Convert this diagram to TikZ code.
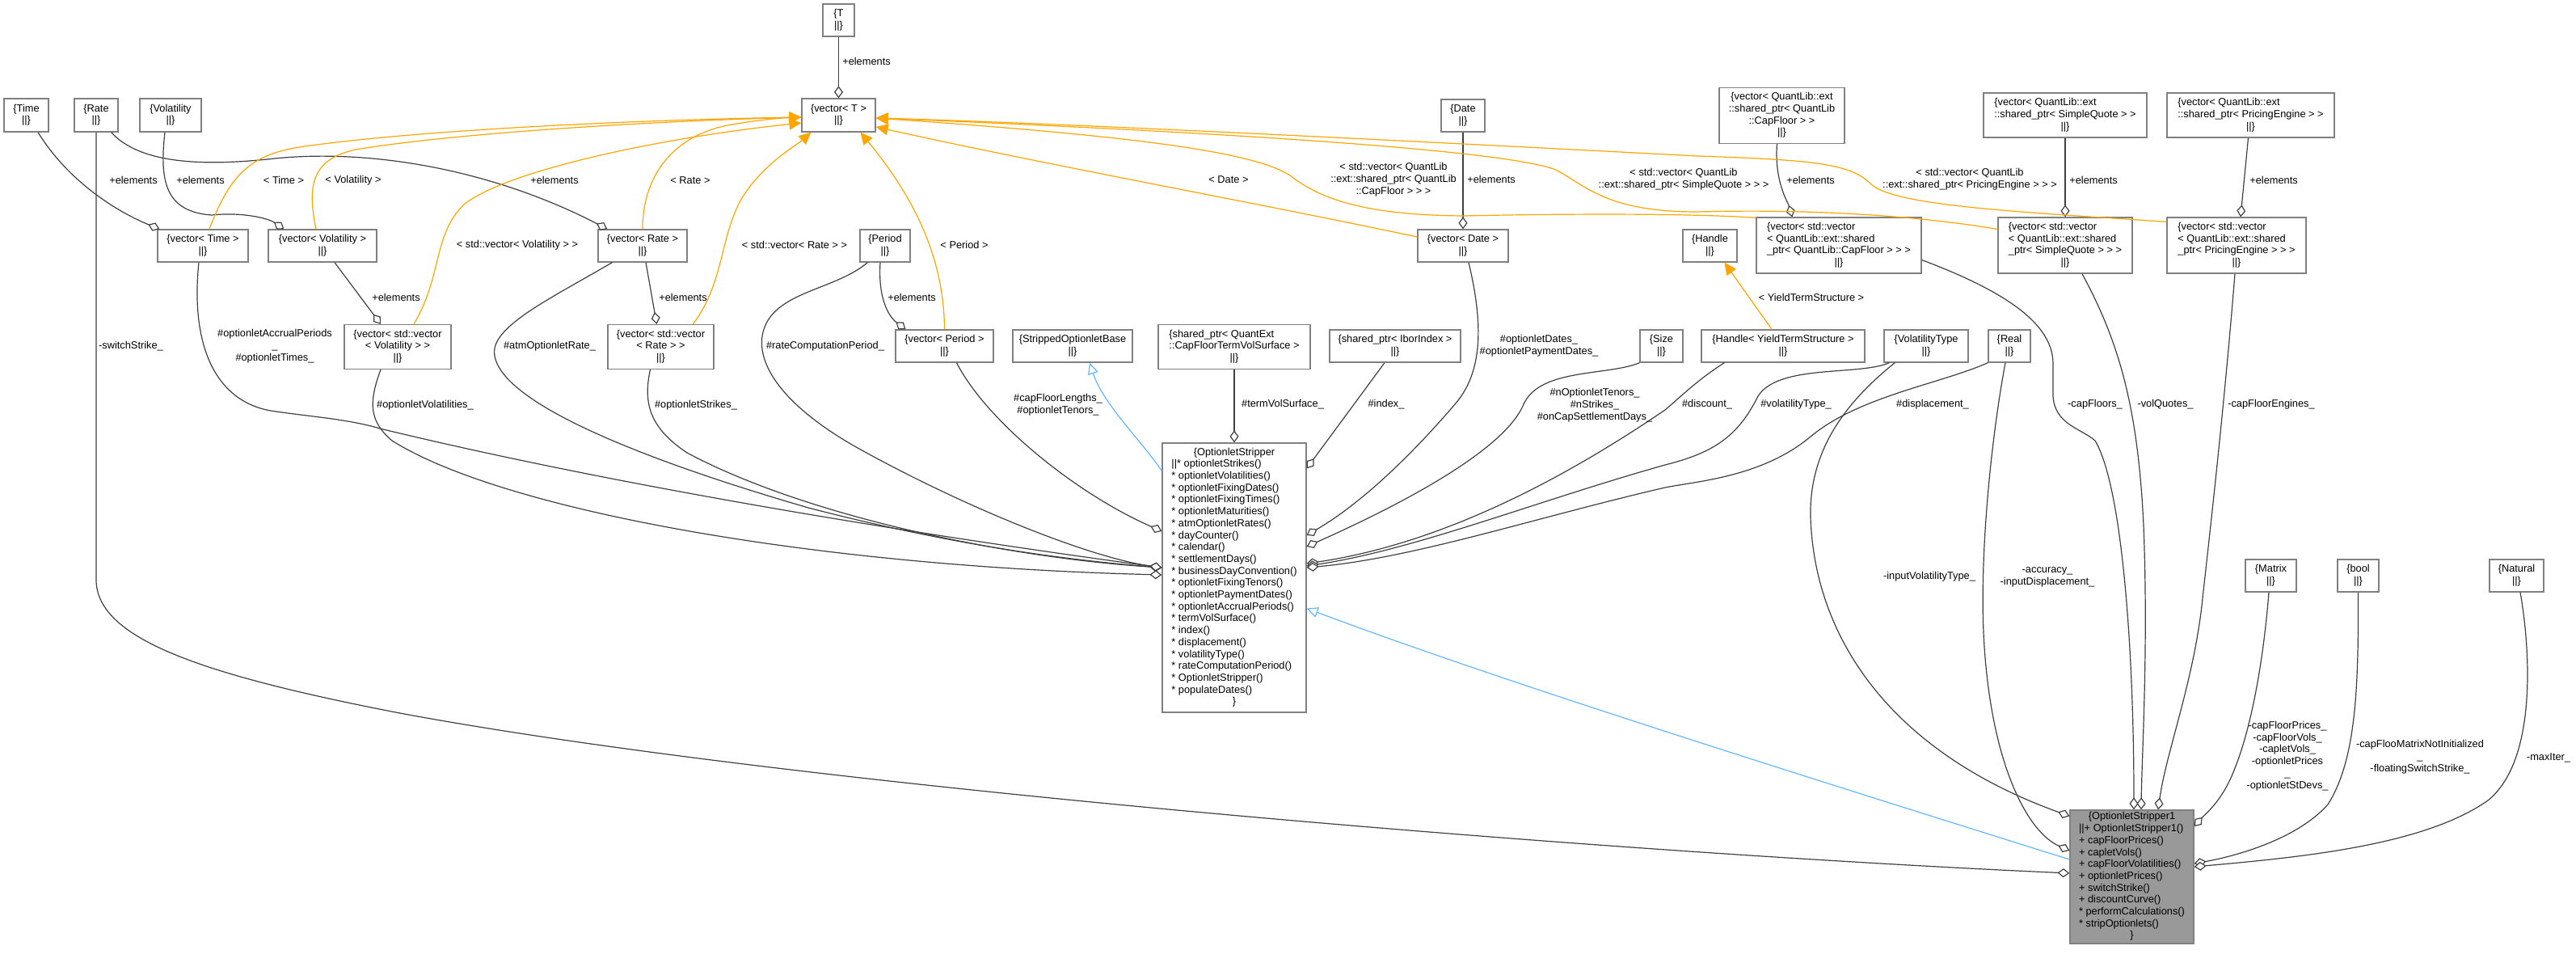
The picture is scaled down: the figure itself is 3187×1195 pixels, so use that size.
\documentclass[tikz,border=0pt]{standalone}
\usepackage{fontspec}
\setmainfont{Liberation Sans}
\usetikzlibrary{arrows.meta,calc}
\definecolor{nodeborder}{HTML}{808080}
\definecolor{edgegray}{HTML}{404040}
\definecolor{tplorange}{HTML}{FFA500}
\definecolor{inhblue}{HTML}{63B8FF}
\definecolor{osfill}{HTML}{999999}
\newcommand\dxfont{\fontsize{6.4pt}{7.35pt}\selectfont}
\newcommand\dxc[1]{\begin{tabular}{@{}c@{}}#1\end{tabular}}
\newcommand\dxl[1]{\begin{tabular}{@{}l@{}}#1\end{tabular}}
\newcommand\dxm[1]{\multicolumn{1}{@{}c@{}}{#1}}
\begin{document}
\begin{tikzpicture}[x=0.5pt,y=-0.5pt,
  box/.style={draw=nodeborder,fill=white,line width=0.65pt,inner sep=0pt,font=\dxfont},
  sz/.style 2 args={minimum width={#1*0.5pt},minimum height={#2*0.5pt}},
  lab/.style={font=\dxfont,inner sep=0pt,align=center},
  agg/.style={draw=edgegray,line width=0.6pt,-{Diamond[fill=white,length=7.5pt,width=5.5pt]}},
  tpl/.style={draw=tplorange,line width=0.6pt,-{Triangle[length=7.5pt,width=7pt]}},
  inh/.style={draw=inhblue,line width=0.6pt,-{Triangle[fill=white,length=7pt,width=6.5pt]}}]
\fill[white] (0,0) rectangle (3187,1195);
\useasboundingbox (0,0) rectangle (3187,1195);

% ---------- nodes ----------
\node[box,sz={39}{40}] (T) at (1037.5,25) {\dxc{\{T\\||\}}};
\node[box,sz={91}{41}] (vT) at (1037.5,142.5) {\dxc{\{vector< T >\\||\}}};
\node[box,sz={55}{41}] (Time) at (32.5,142.5) {\dxc{\{Time\\||\}}};
\node[box,sz={54}{41}] (Rate) at (119,142.5) {\dxc{\{Rate\\||\}}};
\node[box,sz={76}{41}] (Volatility) at (211,142.5) {\dxc{\{Volatility\\||\}}};
\node[box,sz={112}{40}] (vTime) at (251,304) {\dxc{\{vector< Time >\\||\}}};
\node[box,sz={134}{40}] (vVol) at (399,304) {\dxc{\{vector< Volatility >\\||\}}};
\node[box,sz={132}{55}] (vvVol) at (492,429) {\dxc{\{vector< std::vector\\< Volatility > >\\||\}}};
\node[box,sz={110}{40}] (vRate) at (795,304) {\dxc{\{vector< Rate >\\||\}}};
\node[box,sz={131}{55}] (vvRate) at (817.5,429) {\dxc{\{vector< std::vector\\< Rate > >\\||\}}};
\node[box,sz={62}{40}] (Period) at (1095,304) {\dxc{\{Period\\||\}}};
\node[box,sz={121}{40}] (vPeriod) at (1168.5,428) {\dxc{\{vector< Period >\\||\}}};
\node[box,sz={148}{40}] (SOB) at (1327,428) {\dxc{\{StrippedOptionletBase\\||\}}};
\node[box,sz={188}{55}] (CFTVS) at (1527,429) {\dxl{\{shared\_ptr< QuantExt\\::CapFloorTermVolSurface >\\\dxm{||\}}}};
\node[box,sz={162}{40}] (Ibor) at (1726,428) {\dxc{\{shared\_ptr< IborIndex >\\||\}}};
\node[box,sz={54}{40}] (Date) at (1810,143) {\dxc{\{Date\\||\}}};
\node[box,sz={112}{40}] (vDate) at (1810,304) {\dxc{\{vector< Date >\\||\}}};
\node[box,sz={53}{40}] (Size) at (2055.5,428) {\dxc{\{Size\\||\}}};
\node[box,sz={67}{40}] (Handle) at (2115.5,304) {\dxc{\{Handle\\||\}}};
\node[box,sz={202}{40}] (HYTS) at (2206,428) {\dxc{\{Handle< YieldTermStructure >\\||\}}};
\node[box,sz={104}{40}] (VolType) at (2383,428) {\dxc{\{VolatilityType\\||\}}};
\node[box,sz={52}{40}] (Real) at (2486,428) {\dxc{\{Real\\||\}}};
\node[box,sz={155}{69}] (CFptr) at (2204.5,143) {\dxc{\{vector< QuantLib::ext\\::shared\_ptr< QuantLib\\::CapFloor > >\\||\}}};
\node[box,sz={204}{69}] (vvCF) at (2275,303.5) {\dxl{\{vector< std::vector\\< QuantLib::ext::shared\\\_ptr< QuantLib::CapFloor > > >\\\dxm{||\}}}};
\node[box,sz={202}{55}] (SQptr) at (2555,142.5) {\dxl{\{vector< QuantLib::ext\\::shared\_ptr< SimpleQuote > >\\\dxm{||\}}}};
\node[box,sz={166}{69}] (vvSQ) at (2555,303.5) {\dxl{\{vector< std::vector\\< QuantLib::ext::shared\\\_ptr< SimpleQuote > > >\\\dxm{||\}}}};
\node[box,sz={207}{55}] (PEptr) at (2784.5,142.5) {\dxl{\{vector< QuantLib::ext\\::shared\_ptr< PricingEngine > >\\\dxm{||\}}}};
\node[box,sz={172}{69}] (vvPE) at (2767,303.5) {\dxl{\{vector< std::vector\\< QuantLib::ext::shared\\\_ptr< PricingEngine > > >\\\dxm{||\}}}};
\node[box,sz={178}{333}] (OS) at (1527,714.5) {\dxl{\dxm{\{OptionletStripper}\\
||* optionletStrikes()\\
{*} optionletVolatilities()\\
{*} optionletFixingDates()\\
{*} optionletFixingTimes()\\
{*} optionletMaturities()\\
{*} atmOptionletRates()\\
{*} dayCounter()\\
{*} calendar()\\
{*} settlementDays()\\
{*} businessDayConvention()\\
{*} optionletFixingTenors()\\
{*} optionletPaymentDates()\\
{*} optionletAccrualPeriods()\\
{*} termVolSurface()\\
{*} index()\\
{*} displacement()\\
{*} volatilityType()\\
{*} rateComputationPeriod()\\
{*} OptionletStripper()\\
{*} populateDates()\\
\dxm{\}}}};
\node[box,sz={63}{40}] (Matrix) at (2809.5,712) {\dxc{\{Matrix\\||\}}};
\node[box,sz={51}{40}] (bool) at (2917.5,712) {\dxc{\{bool\\||\}}};
\node[box,sz={67}{40}] (Natural) at (3113.5,712) {\dxc{\{Natural\\||\}}};
\node[box,fill=osfill,sz={153}{165}] (OS1) at (2637.5,1084.5) {\dxl{\dxm{\{OptionletStripper1}\\
||+ OptionletStripper1()\\
+ capFloorPrices()\\
+ capletVols()\\
+ capFloorVolatilities()\\
+ optionletPrices()\\
+ switchStrike()\\
+ discountCurve()\\
{*} performCalculations()\\
{*} stripOptionlets()\\
\dxm{\}}}};

% ---------- aggregation: elements ----------
\draw[agg] (T.south) -- (vT.north);
\draw[agg] ($(Time.south)+(14.5,0)$) .. controls (85,225) and (145,262) .. ($(vTime.north west)+(3,0)$);
\draw[agg] ($(Volatility.south)+(-7,0)$) .. controls (197,225) and (205,262) .. (262,266) .. controls (300,262) and (332,270) .. ($(vVol.north west)+(20,0)$);
\draw[agg] ($(Rate.south east)+(-9,0)$) .. controls (175,205) and (260,205) .. (340,196) .. controls (470,183) and (620,215) .. ($(vRate.north west)+(12,0)$);
\draw[agg] ($(vVol.south)+(15,0)$) -- ($(vvVol.north)+(-21,0)$);
\draw[agg] ($(vRate.south)+(4,0)$) -- ($(vvRate.north)+(-5,0)$);
\draw[agg] ($(Period.south)+(-6,0)$) .. controls (1086,370) and (1100,392) .. ($(vPeriod.north)+(-48,0)$);
\draw[agg] (Date.south) -- (vDate.north);
\draw[agg] ($(CFptr.south)+(-6,0)$) .. controls (2195,225) and (2212,250) .. ($(vvCF.north west)+(45,0)$);
\draw[agg] (SQptr.south) -- (vvSQ.north);
\draw[agg] ($(PEptr.south)+(-3,0)$) -- ($(vvPE.north)+(5,0)$);

% ---------- template instances ----------
\draw[tpl] ($(vTime.north)+(8,0)$) .. controls (285,215) and (310,192) .. (370,182) .. controls (520,160) and (800,148) .. ($(vT.west)+(0,2.5)$);
\draw[tpl] ($(vVol.north)+(-8,0)$) .. controls (380,230) and (385,197) .. (440,185) .. controls (560,165) and (800,150) .. ($(vT.west)+(0,2.5)$);
\draw[tpl] ($(vvVol.north)+(20,0)$) .. controls (548,340) and (535,290) .. (575,252) .. controls (630,210) and (820,170) .. ($(vT.west)+(0,9.5)$);
\draw[tpl] (vRate.north) .. controls (795,215) and (835,168) .. (900,155) .. controls (940,148) and (965,146) .. ($(vT.west)+(0,2.5)$);
\draw[tpl] ($(vvRate.north)+(40,0)$) .. controls (895,350) and (890,300) .. (915,250) .. controls (940,205) and (985,180) .. ($(vT.south)+(-34,0)$);
\draw[tpl] (vPeriod.north) .. controls (1168,330) and (1140,255) .. ($(vT.south)+(27,0)$);
\draw[tpl] ($(vDate.west)+(0,-11)$) .. controls (1550,250) and (1300,205) .. ($(vT.east)+(0,14.5)$);
\draw[tpl] ($(vvCF.north west)+(0,1)$) .. controls (2080,263) and (1900,265) .. (1810,267) .. controls (1700,266) and (1640,250) .. (1600,220) .. controls (1560,188) and (1400,168) .. ($(vT.east)+(0,3.5)$);
\draw[tpl] ($(vvSQ.west)+(0,-20)$) .. controls (2380,268) and (2250,258) .. (2100,262) .. controls (1990,262) and (1965,232) .. (1925,210) .. controls (1860,185) and (1500,163) .. ($(vT.east)+(0,3.5)$);
\draw[tpl] ($(vvPE.north west)+(0,6)$) .. controls (2500,262) and (2345,255) .. (2315,228) .. controls (2290,203) and (2250,198) .. (2100,193) .. controls (1700,172) and (1300,152) .. ($(vT.east)+(0,3.5)$);
\draw[tpl] ($(HYTS.north)+(-14,0)$) -- ($(Handle.south)+(18,0)$);

% ---------- inheritance ----------
\draw[inh] ($(OS.north west)+(0,35)$) .. controls (1412,545) and (1365,500) .. ($(SOB.south)+(21,0)$);
\draw[inh] ($(OS1.west)+(0,-21.5)$) .. controls (2200,950) and (1850,840) .. ($(OS.east)+(0,38)$);

% ---------- members of OptionletStripper ----------
\draw[agg] ($(vTime.south)+(-5,0)$) .. controls (236,420) and (262,495) .. (335,508) .. controls (380,515) and (430,518) .. (470,530) .. controls (800,610) and (1200,670) .. ($(OS.west)+(0,-12.5)$);
\draw[agg] ($(vvVol.south)+(-21,0)$) .. controls (455,500) and (458,522) .. (485,545) .. controls (620,630) and (1000,700) .. ($(OS.west)+(0,-3.5)$);
\draw[agg] ($(vRate.south west)+(18,0)$) .. controls (680,370) and (605,405) .. (612,440) .. controls (622,500) and (800,570) .. (1000,628) .. controls (1200,680) and (1350,695) .. ($(OS.west)+(0,-12.5)$);
\draw[agg] ($(vvRate.south)+(-13,0)$) .. controls (795,500) and (805,530) .. (850,560) .. controls (1000,640) and (1250,690) .. ($(OS.west)+(0,-12.5)$);
\draw[agg] ($(Period.south west)+(10,0)$) .. controls (1035,357) and (968,360) .. (948,400) .. controls (928,440) and (960,500) .. (1072,560) .. controls (1200,630) and (1350,690) .. ($(OS.west)+(0,-12.5)$);
\draw[agg] ($(vPeriod.south)+(15,0)$) .. controls (1220,520) and (1330,610) .. ($(OS.west)+(0,-57.5)$);
\draw[agg] (CFTVS.south) -- (OS.north);
\draw[agg] ($(Ibor.south)+(-13,0)$) -- ($(OS.north east)+(0,32)$);
\draw[agg] ($(vDate.south)+(7,0)$) .. controls (1835,400) and (1835,460) .. (1800,500) .. controls (1740,570) and (1680,625) .. ($(OS.east)+(0,-52.5)$);
\draw[agg] (Size.south west) .. controls (1990,465) and (1905,455) .. (1885,500) .. controls (1860,560) and (1720,630) .. ($(OS.east)+(0,-38.5)$);
\draw[agg] ($(HYTS.south west)+(29,0)$) .. controls (2100,470) and (2080,490) .. (2060,507) .. controls (1960,575) and (1800,670) .. ($(OS.east)+(0,-17.5)$);
\draw[agg] ($(VolType.south west)+(7,0)$) .. controls (2300,465) and (2200,450) .. (2175,490) .. controls (2150,540) and (2120,560) .. (2060,575) .. controls (1900,620) and (1750,680) .. ($(OS.east)+(0,-14.5)$);
\draw[agg] (Real.south west) .. controls (2400,475) and (2300,490) .. (2240,540) .. controls (2180,590) and (2100,595) .. (2060,603) .. controls (1900,640) and (1750,690) .. ($(OS.east)+(0,-12.5)$);

% ---------- members of OptionletStripper1 ----------
\draw[agg] ($(vvCF.east)+(0,18)$) .. controls (2480,360) and (2540,400) .. (2540,450) -- (2540,490) .. controls (2542,525) and (2575,530) .. (2592,545) .. controls (2625,600) and (2640,800) .. ($(OS1.north)+(2.5,0)$);
\draw[agg] ($(vvSQ.south)+(21,0)$) .. controls (2620,420) and (2645,500) .. (2652,650) .. controls (2658,800) and (2650,930) .. ($(OS1.north)+(11.5,0)$);
\draw[agg] ($(vvPE.south)+(-2,0)$) .. controls (2752,500) and (2735,650) .. (2725,740) .. controls (2715,840) and (2680,930) .. ($(OS1.north)+(32.5,0)$);
\draw[agg] ($(VolType.south west)+(14,0)$) .. controls (2280,500) and (2238,560) .. (2240,640) .. controls (2245,790) and (2340,930) .. ($(OS1.north west)+(0,8)$);
\draw[agg] ($(Real.south)+(-5,0)$) .. controls (2462,550) and (2448,700) .. (2455,800) .. controls (2465,950) and (2510,1030) .. ($(OS1.west)+(0,-32.5)$);
\draw[agg] (Rate.south) -- (119,717) .. controls (119,790) and (250,835) .. (500,883) .. controls (1000,975) and (2000,1055) .. ($(OS1.west)+(0,-4.5)$);
\draw[agg] ($(Matrix.south)+(-2.5,0)$) .. controls (2800,820) and (2785,900) .. (2765,950) .. controls (2750,990) and (2730,1005) .. ($(OS1.east)+(0,-62.5)$);
\draw[agg] (bool.south) .. controls (2918,850) and (2915,940) .. (2880,995) .. controls (2840,1040) and (2760,1060) .. ($(OS1.east)+(0,-16.5)$);
\draw[agg] ($(Natural.south)+(4.5,0)$) .. controls (3130,800) and (3140,940) .. (3078,990) .. controls (3000,1045) and (2850,1060) .. ($(OS1.east)+(0,-12.5)$);

% ---------- labels ----------
\node[lab] (l1) at (1072,76) {+elements};
\node[lab] (l2) at (165,223) {+elements};
\node[lab] (l3) at (248,223) {+elements};
\node[lab] (l4) at (686,223) {+elements};
\node[lab] (l5) at (490,368) {+elements};
\node[lab] (l6) at (845,368) {+elements};
\node[lab] (l7) at (1128,368) {+elements};
\node[lab] (l8) at (1845,222) {+elements};
\node[lab] (l9) at (2240,223) {+elements};
\node[lab] (l10) at (2590,223) {+elements};
\node[lab] (l11) at (2813,223) {+elements};
\node[lab] (t1) at (351,223) {< Time >};
\node[lab] (t2) at (437,223) {< Volatility >};
\node[lab] (t3) at (640,303) {< std::vector< Volatility > >};
\node[lab] (t4) at (854,223) {< Rate >};
\node[lab] (t5) at (983,303) {< std::vector< Rate > >};
\node[lab] (t6) at (1193,303) {< Period >};
\node[lab] (t7) at (1520,222) {< Date >};
\node[lab] (t8) at (1724,222) {< std::vector< QuantLib\\::ext::shared\_ptr< QuantLib\\::CapFloor > > >};
\node[lab] (t9) at (2083,222) {< std::vector< QuantLib\\::ext::shared\_ptr< SimpleQuote > > >};
\node[lab] (t10) at (2437,222) {< std::vector< QuantLib\\::ext::shared\_ptr< PricingEngine > > >};
\node[lab] (t11) at (2241,368) {< YieldTermStructure >};
\node[lab] (m1) at (340,428) {\#optionletAccrualPeriods\\\_\\\#optionletTimes\_};
\node[lab] (m2) at (526,501) {\#optionletVolatilities\_};
\node[lab] (m3) at (680,428) {\#atmOptionletRate\_};
\node[lab] (m4) at (861,501) {\#optionletStrikes\_};
\node[lab] (m5) at (1021,428) {\#rateComputationPeriod\_};
\node[lab] (m6) at (1309,501) {\#capFloorLengths\_\\\#optionletTenors\_};
\node[lab] (m7) at (162,428) {-switchStrike\_};
\node[lab] (m8) at (1587,500) {\#termVolSurface\_};
\node[lab] (m9) at (1715,500) {\#index\_};
\node[lab] (m10) at (1904,428) {\#optionletDates\_\\\#optionletPaymentDates\_};
\node[lab] (m11) at (1973,501) {\#nOptionletTenors\_\\\#nStrikes\_\\\#onCapSettlementDays\_};
\node[lab] (m12) at (2112,500) {\#discount\_};
\node[lab] (m13) at (2222,500) {\#volatilityType\_};
\node[lab] (m14) at (2391,500) {\#displacement\_};
\node[lab] (n1) at (2592,500) {-capFloors\_};
\node[lab] (n2) at (2679,500) {-volQuotes\_};
\node[lab] (n3) at (2810,500) {-capFloorEngines\_};
\node[lab] (n4) at (2387,713) {-inputVolatilityType\_};
\node[lab] (n5) at (2533,714) {-accuracy\_\\-inputDisplacement\_};
\node[lab] (n6) at (2830,935) {-capFloorPrices\_\\-capFloorVols\_\\-capletVols\_\\-optionletPrices\\\_\\-optionletStDevs\_};
\node[lab] (n7) at (2994,936) {-capFlooMatrixNotInitialized\\\_\\-floatingSwitchStrike\_};
\node[lab] (n8) at (3153,937) {-maxIter\_};
\end{tikzpicture}
\end{document}
